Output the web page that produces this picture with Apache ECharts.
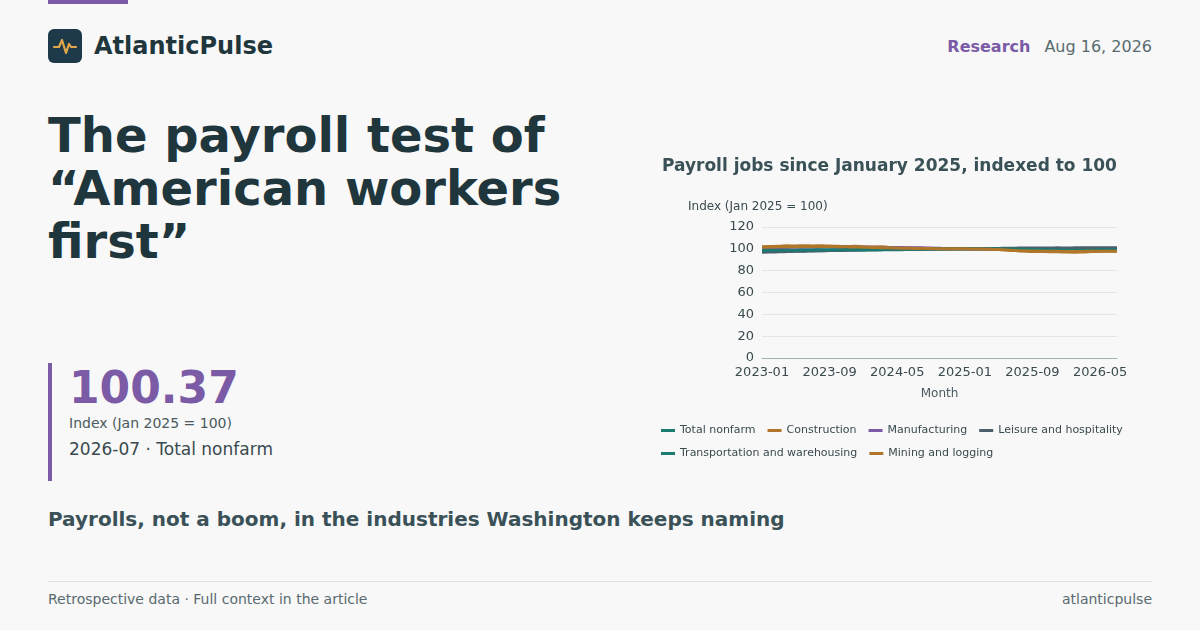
<!DOCTYPE html>
<html lang="en">
<head>
<meta charset="UTF-8" />
<title>AtlanticPulse</title>
<script src="https://cdn.jsdelivr.net/npm/echarts@6/dist/echarts.min.js"></script>
<style>
  body { margin: 0; width: 1200px; height: 630px; background: #f7f8f7; font-family: "DejaVu Sans", sans-serif; position: relative; overflow: hidden; color: #1f363d; }
  .bar { position: absolute; left: 48px; top: 0; width: 80px; height: 4px; background: #7b5aa6; }
  .logo { position: absolute; left: 48px; top: 29px; width: 34px; height: 34px; border-radius: 6px; background: #1e3a4a; }
  .brand { position: absolute; left: 94px; top: 32px; font-size: 24px; font-weight: bold; color: #1f363d; }
  .meta { position: absolute; right: 48px; top: 37px; font-size: 16px; color: #5a6a70; }
  .meta b { color: #7b5aa6; margin-right: 14px; }
  h1 { position: absolute; left: 48px; top: 109px; margin: 0; font-size: 48px; line-height: 53px; font-weight: bold; color: #1f363d; }
  .kpi { position: absolute; left: 48px; top: 363px; height: 118px; border-left: 4px solid #7b5aa6; padding-left: 17px; }
  .kpi .v { font-size: 44px; font-weight: bold; color: #7b5aa6; line-height: 48px; margin-top: 1px; }
  .kpi .l { font-size: 14px; color: #4a5a60; margin-top: 3px; }
  .kpi .s { font-size: 17px; color: #3a4a50; margin-top: 8px; }
  .sub { position: absolute; left: 48px; top: 507px; font-size: 20px; font-weight: bold; color: #3a5158; }
  .foot { position: absolute; left: 48px; right: 48px; top: 581px; border-top: 1px solid #dde2e2; padding-top: 9px; font-size: 14px; color: #5a6a70; }
  .foot span { float: right; }
  #chart { position: absolute; left: 650px; top: 145px; width: 490px; height: 330px; }
</style>
</head>
<body>
<div class="bar"></div>
<div class="logo"><svg width="34" height="34" viewBox="0 0 34 34"><polyline points="6,18 11,18 14,11 18,24 21,15 23,18 28,18" fill="none" stroke="#e0a84a" stroke-width="2.2" stroke-linejoin="round" stroke-linecap="round"/></svg></div>
<div class="brand">AtlanticPulse</div>
<div class="meta"><b>Research</b>Aug 16, 2026</div>
<h1>The payroll test of<br>“American workers<br>first”</h1>
<div class="kpi">
  <div class="v">100.37</div>
  <div class="l">Index (Jan 2025 = 100)</div>
  <div class="s">2026-07 · Total nonfarm</div>
</div>
<div class="sub">Payrolls, not a boom, in the industries Washington keeps naming</div>
<div class="foot">Retrospective data · Full context in the article<span>atlanticpulse</span></div>
<div id="chart"></div>
<script>
const months = [];
for (let y = 2023; y <= 2026; y++) {
  for (let m = 1; m <= 12; m++) {
    if (y === 2026 && m > 7) break;
    months.push(y + '-' + String(m).padStart(2, '0'));
  }
}
const totalNonfarm = [97.6,97.7,97.8,97.9,98.0,98.1,98.2,98.3,98.4,98.5,98.6,98.7,98.8,98.9,99.0,99.1,99.2,99.3,99.4,99.5,99.6,99.7,99.8,99.9,100.0,100.0,100.1,100.1,100.1,100.2,100.2,100.2,100.2,100.3,100.3,100.3,100.3,100.3,100.3,100.4,100.4,100.4,100.37];
const construction = [102.0,102.1,102.3,102.8,102.6,102.9,102.7,102.8,102.5,102.3,102.1,102.4,101.8,101.6,101.9,101.3,100.9,100.7,100.5,100.4,100.3,100.2,100.1,100.1,100.0,99.9,99.8,99.6,99.3,99.0,98.5,98.0,97.6,97.5,97.4,97.3,97.0,96.9,97.1,97.5,97.8,98.0,98.1];
const manufacturing = [101.0,101.1,101.2,101.3,101.4,101.5,101.5,101.6,101.6,101.5,101.6,101.5,101.4,101.4,101.3,101.3,101.2,101.1,101.0,100.9,100.7,100.5,100.3,100.1,100.0,99.9,99.9,99.8,99.8,99.7,99.7,99.6,99.6,99.6,99.5,99.5,99.5,99.4,99.4,99.4,99.5,99.5,99.5];
const leisure = [96.8,97.0,97.3,97.5,97.7,97.9,98.1,98.3,98.5,98.7,98.8,99.0,99.1,99.2,99.3,99.4,99.5,99.6,99.7,99.8,99.8,99.9,99.9,100.0,100.0,100.1,100.2,100.3,100.4,100.5,100.6,100.7,100.7,100.8,100.8,100.9,100.8,100.9,101.0,101.0,101.1,101.0,101.1];
const transportation = [98.5,98.6,98.6,98.7,98.8,98.9,99.0,99.1,99.1,99.2,99.3,99.3,99.4,99.5,99.5,99.6,99.7,99.7,99.8,99.9,99.9,100.0,100.0,100.0,100.0,100.0,100.1,100.1,100.0,99.9,99.8,99.6,99.5,99.3,99.2,99.0,98.8,98.6,98.7,98.9,99.1,99.0,99.1];
const mining = [101.5,101.6,101.8,101.9,102.0,102.1,102.2,102.2,102.1,102.0,101.9,101.7,101.5,101.3,101.1,100.9,100.7,100.5,100.4,100.3,100.2,100.1,100.1,100.0,100.0,99.9,99.8,99.6,99.3,98.9,98.5,98.2,98.0,97.9,97.8,97.7,97.6,97.5,97.6,97.8,97.9,97.8,97.8];

const seriesDefs = [
  ['Total nonfarm', totalNonfarm, '#1b7a72'],
  ['Construction', construction, '#b0772a'],
  ['Manufacturing', manufacturing, '#7b5aa6'],
  ['Leisure and hospitality', leisure, '#4e5f6c'],
  ['Transportation and warehousing', transportation, '#1b7a72'],
  ['Mining and logging', mining, '#b0772a']
];

const font = 'DejaVu Sans';
const chart = echarts.init(document.getElementById('chart'));
chart.setOption({
  animation: false,
  textStyle: { fontFamily: font },
  title: { text: 'Payroll jobs since January 2025, indexed to 100', left: 7, top: 8, textStyle: { fontSize: 17, fontWeight: 'bold', color: '#3a5158', fontFamily: font } },
  grid: { left: 112, right: 23, top: 82, bottom: 117 },
  legend: {
    top: 275, left: 6, width: 480, itemWidth: 14, itemHeight: 3, itemGap: 12, icon: 'rect',
    textStyle: { fontSize: 11, color: '#3a4a50', fontFamily: font, lineHeight: 10 }
  },
  xAxis: {
    type: 'category', data: months, boundaryGap: false, name: 'Month', nameLocation: 'middle', nameGap: 30,
    nameTextStyle: { fontSize: 12, color: '#4a5a60', fontFamily: font },
    axisLine: { lineStyle: { color: '#9bb5b0' } }, axisTick: { show: false },
    axisLabel: { interval: 7, fontSize: 13, color: '#3a4a50', fontFamily: font }
  },
  yAxis: {
    type: 'value', min: 0, max: 120, interval: 20, name: 'Index (Jan 2025 = 100)', nameGap: 14,
    nameTextStyle: { fontSize: 12, color: '#3a4a50', align: 'left', padding: [0, 0, 0, -74], fontFamily: font },
    axisLabel: { fontSize: 13, color: '#3a4a50', fontFamily: font },
    splitLine: { lineStyle: { color: '#e2e6e6' } }
  },
  series: seriesDefs.map(([name, data, color]) => ({
    name, type: 'line', data, showSymbol: false, smooth: true,
    lineStyle: { width: 3, color }, itemStyle: { color }
  }))
});
</script>
</body>
</html>
